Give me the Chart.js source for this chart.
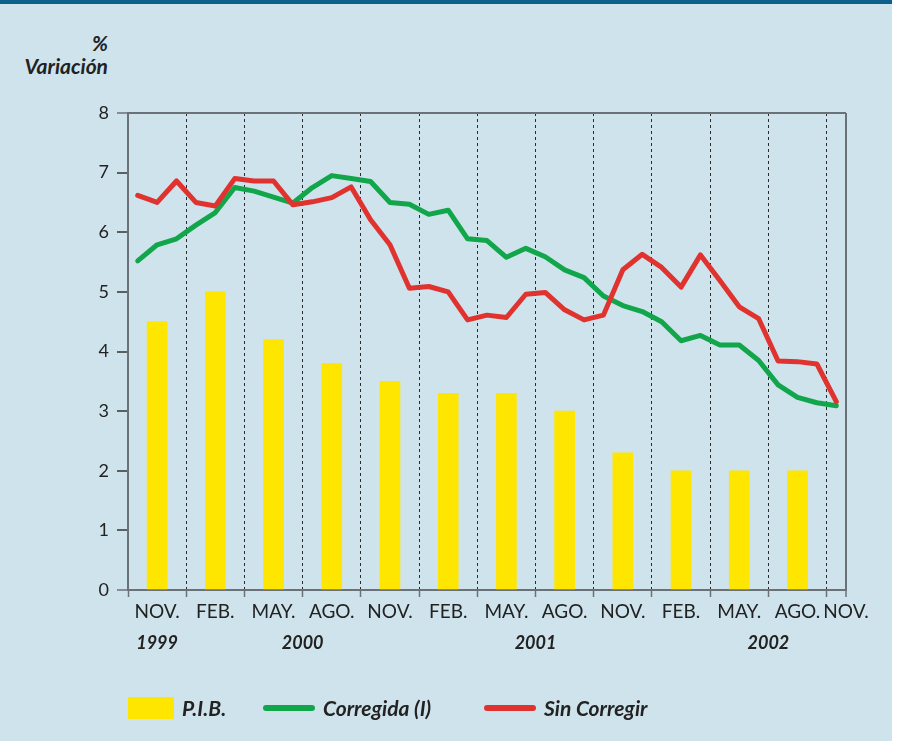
<!DOCTYPE html>
<html>
<head>
<meta charset="utf-8">
<script src="https://cdn.jsdelivr.net/npm/chart.js@4.4.1/dist/chart.umd.min.js"></script>
<style>
  body { margin: 0; background: #fff; font-family: Lato, "Open Sans", sans-serif; }
  #page { position: absolute; left: 0; top: 0; width: 892px; height: 741px; background: #cfe3ec; }
  #topbar { position: absolute; left: 0; top: 0; width: 892px; height: 4px; background: #0b6189; }
  #chart { position: absolute; left: 0; top: 0; }
  .ytitle { position: absolute; right: 791px; font-weight: 700; font-style: italic; font-size: 21px; color: #222; white-space: nowrap; }
  #legend { position: absolute; left: 0; top: 0; }
  .lg-box { position: absolute; }
  .lg-text { position: absolute; font-weight: 700; font-style: italic; font-size: 21px; color: #222; white-space: nowrap; line-height: 22px; }
</style>
</head>
<body>
<div id="page"></div>
<div id="topbar"></div>
<div class="ytitle" style="top:30px">%</div>
<div class="ytitle" style="top:53px">Variación</div>
<canvas id="chart" width="899" height="741"></canvas>
<div id="legend"></div>
<script>
// Quarterly GDP growth (bars) and monthly series (lines), Nov 1999 - Nov 2002
const pib = [4.5, 5.0, 4.2, 3.8, 3.5, 3.3, 3.3, 3.0, 2.3, 2.0, 2.0, 2.0];

const corregida = [
  5.52, 5.79, 5.89, 6.12, 6.33, 6.75, 6.69, 6.59, 6.49, 6.75, 6.95, 6.90,
  6.85, 6.50, 6.47, 6.30, 6.37, 5.89, 5.86, 5.58, 5.73, 5.59, 5.37, 5.24,
  4.93, 4.77, 4.67, 4.50, 4.18, 4.27, 4.11, 4.11, 3.85, 3.44, 3.23, 3.14,
  3.09
];

const sinCorregir = [
  6.62, 6.50, 6.86, 6.50, 6.44, 6.90, 6.86, 6.86, 6.46, 6.51, 6.58, 6.76,
  6.21, 5.79, 5.06, 5.09, 5.00, 4.53, 4.61, 4.57, 4.96, 4.99, 4.70, 4.53,
  4.61, 5.37, 5.63, 5.41, 5.08, 5.62, 5.19, 4.75, 4.55, 3.84, 3.83, 3.79,
  3.16
];

const monthLabels = ['NOV.', 'FEB.', 'MAY.', 'AGO.', 'NOV.', 'FEB.', 'MAY.', 'AGO.',
  'NOV.', 'FEB.', 'MAY.', 'AGO.', 'NOV.'];
const yearLabels = ['1999', '2000', '2001', '2002'];
const yearPos = [1.5, 9, 21, 33];   // in months from Nov 1999
const yTicks = [0, 1, 2, 3, 4, 5, 6, 7, 8];

const colPib = '#ffe600';
const colCorr = '#12a64b';
const colSin = '#e0332f';
const axisGray = '#6b7178';

// x is measured in months: quarter i covers [3i, 3i+3]
const xMax = 37;
const quarterEdges = [];
for (let i = 0; i <= 12; i++) quarterEdges.push(i * 3);
quarterEdges.push(xMax);
const monthTickPos = monthLabels.map((m, i) => (i < 12 ? i * 3 + 1.5 : xMax));

const pibPoints = pib.map((v, i) => ({ x: i * 3 + 1.5, y: v }));
const corrPoints = corregida.map((v, i) => ({ x: i + 0.5, y: v }));
const sinPoints = sinCorregir.map((v, i) => ({ x: i + 0.5, y: v }));

const font = 'Lato';

function fixTicks(values) {
  return function (scale) {
    scale.ticks = values.map(v => ({ value: v }));
  };
}

new Chart(document.getElementById('chart'), {
  type: 'line',
  data: {
    datasets: [
      {
        label: 'Sin Corregir',
        data: sinPoints,
        borderColor: colSin,
        borderWidth: 5,
        pointRadius: 0,
        borderJoinStyle: 'round',
        borderCapStyle: 'round',
        order: 1
      },
      {
        label: 'Corregida (I)',
        data: corrPoints,
        borderColor: colCorr,
        borderWidth: 5,
        pointRadius: 0,
        borderJoinStyle: 'round',
        borderCapStyle: 'round',
        order: 2
      },
      {
        type: 'bar',
        label: 'P.I.B.',
        data: pibPoints,
        backgroundColor: colPib,
        barThickness: 20,
        order: 3
      }
    ]
  },
  options: {
    responsive: false,
    animation: false,
    layout: { padding: { top: 113, right: 53, left: 0, bottom: 80 } },
    plugins: { legend: { display: false }, tooltip: { enabled: false } },
    scales: {
      x: {
        type: 'linear',
        position: 'bottom',
        min: 0,
        max: xMax,
        offset: false,
        weight: 0,
        afterBuildTicks: fixTicks(quarterEdges),
        afterFit: s => { s.height = 7; },
        ticks: { display: false },
        grid: {
          offset: false,
          color: c => (c.tick.value === 0 ? 'rgba(0,0,0,0)' : c.tick.value === xMax ? axisGray : '#2a2a2a'),
          lineWidth: c => (c.tick.value === xMax ? 2 : 1),
          tickColor: axisGray,
          tickWidth: 1.5,
          tickLength: 7
        },
        border: {
          color: axisGray,
          width: 2,
          dash: c => (c.tick && c.tick.value === xMax ? [] : [3, 3])
        }
      },
      xMonth: {
        type: 'linear',
        position: 'bottom',
        min: 0,
        max: xMax,
        weight: 1,
        afterBuildTicks: fixTicks(monthTickPos),
        afterFit: s => { s.height = 32; },
        grid: { display: false, drawTicks: false },
        border: { display: false },
        ticks: {
          autoSkip: false,
          maxRotation: 0,
          padding: 3,
          color: '#222',
          font: { family: font, size: 19 },
          callback: (v, i) => monthLabels[i]
        }
      },
      xYear: {
        type: 'linear',
        position: 'bottom',
        min: 0,
        max: xMax,
        weight: 2,
        afterBuildTicks: fixTicks(yearPos),
        afterFit: s => { s.height = 32; },
        grid: { display: false, drawTicks: false },
        border: { display: false },
        ticks: {
          autoSkip: false,
          maxRotation: 0,
          padding: 3,
          color: '#222',
          font: { family: font, size: 18, weight: 'bold', style: 'italic' },
          callback: (v, i) => yearLabels[i]
        }
      },
      y: {
        type: 'linear',
        position: 'left',
        min: 0,
        max: 8,
        afterBuildTicks: fixTicks(yTicks),
        afterFit: s => { s.width = 128; },
        ticks: {
          padding: 8,
          color: '#222',
          font: { family: font, size: 18 },
          callback: v => String(v)
        },
        grid: {
          color: c => (c.tick.value === 8 ? axisGray : 'rgba(0,0,0,0)'),
          lineWidth: 2,
          tickColor: c => (c.tick.value === 8 || c.tick.value === 0 ? axisGray : '#333'),
          tickWidth: 1.5,
          tickLength: 11
        },
        border: { color: axisGray, width: 2 }
      }
    }
  }
});

// legend built from the same colours and labels
const legendItems = [
  { label: 'P.I.B.', color: colPib, kind: 'box', x: 128 },
  { label: 'Corregida (I)', color: colCorr, kind: 'line', x: 263 },
  { label: 'Sin Corregir', color: colSin, kind: 'line', x: 484 }
];
const legend = document.getElementById('legend');
legendItems.forEach(it => {
  const mark = document.createElement('div');
  mark.className = 'lg-box';
  mark.style.background = it.color;
  mark.style.left = it.x + 'px';
  if (it.kind === 'box') {
    mark.style.top = '697px'; mark.style.width = '46px'; mark.style.height = '22px';
  } else {
    mark.style.top = '705px'; mark.style.width = '52px'; mark.style.height = '6px';
    mark.style.borderRadius = '3px';
  }
  legend.appendChild(mark);
  const txt = document.createElement('div');
  txt.className = 'lg-text';
  txt.textContent = it.label;
  txt.style.left = (it.x + (it.kind === 'box' ? 54 : 60)) + 'px';
  txt.style.top = '697px';
  legend.appendChild(txt);
});
</script>
</body>
</html>
